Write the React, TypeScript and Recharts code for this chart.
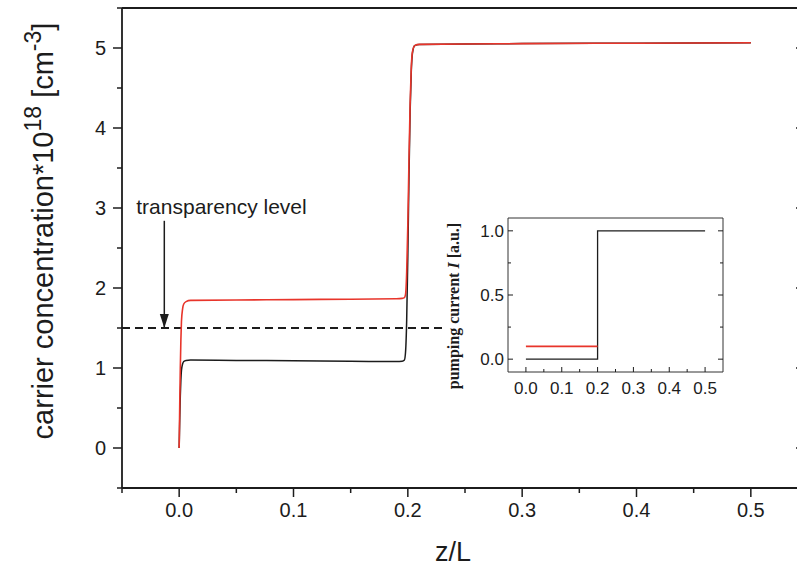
import React from 'react';
import { LineChart, Line, XAxis, YAxis, ReferenceDot } from 'recharts';

// carrier concentration along the cavity, units of 1e18 cm^-3
const zGrid = [0, 0.0005, 0.001, 0.0015, 0.002, 0.003, 0.004, 0.006, 0.01, 0.05, 0.1, 0.15, 0.19, 0.195, 0.197, 0.198, 0.199, 0.2, 0.201, 0.202, 0.203, 0.204, 0.206, 0.21, 0.25, 0.3, 0.4, 0.5];
const redN = [0, 0.55, 1.0, 1.35, 1.58, 1.74, 1.8, 1.83, 1.845, 1.85, 1.855, 1.86, 1.865, 1.87, 1.88, 1.92, 2.2, 2.8, 3.6, 4.3, 4.75, 4.95, 5.03, 5.045, 5.05, 5.055, 5.06, 5.065];
const blackN = [0, 0.35, 0.65, 0.85, 0.97, 1.05, 1.08, 1.095, 1.1, 1.095, 1.09, 1.085, 1.08, 1.085, 1.1, 1.2, 1.6, 2.4, 3.4, 4.2, 4.7, 4.93, 5.03, 5.045, 5.05, 5.055, 5.06, 5.065];

// transparency level + arrow
const levelZ = [-0.05, 0.233];
const levelN = [1.5, 1.5];
const arrowZ = [-0.013, -0.013];
const arrowN = [2.84, 1.5];

// inset: pumping current profile
const pumpBlackZ = [0, 0.2, 0.2, 0.5];
const pumpBlackI = [0, 0, 1, 1];
const pumpRedZ = [0, 0.2];
const pumpRedI = [0.1, 0.1];

const xTicks = [-0.05, 0, 0.05, 0.1, 0.15, 0.2, 0.25, 0.3, 0.35, 0.4, 0.45, 0.5, 0.55];
const yTicks = [-0.5, 0, 0.5, 1, 1.5, 2, 2.5, 3, 3.5, 4, 4.5, 5, 5.5];
const insetXTicks = [0, 0.05, 0.1, 0.15, 0.2, 0.25, 0.3, 0.35, 0.4, 0.45, 0.5];
const insetYTicks = [0, 0.25, 0.5, 0.75, 1];

const zip = (zs: number[], vs: number[]) => zs.map((z, i) => ({ z, v: vs[i] }));

const red = '#e8352b';
const ink = '#1c1c1c';
const sans = '"Liberation Sans", Arial, Helvetica, sans-serif';
const serif = '"Liberation Serif", "Times New Roman", serif';

type Side = 'bottom' | 'top' | 'left' | 'right';

// tick line + optional label, drawn from the axis line itself (tickSize/tickMargin are 0)
function makeTick(side: Side, step: number, len: [number, number], inward: boolean,
  label?: { size: number; gap: number }, width = 1.5) {
  return (props: any) => {
    const { x, y, payload } = props;
    const v: number = payload.value;
    const major = Math.abs(v / step - Math.round(v / step)) < 1e-6;
    const l = major ? len[0] : len[1];
    const d = inward ? -1 : 1;
    let x2 = x, y2 = y;
    if (side === 'bottom') y2 = y + d * l;
    if (side === 'top') y2 = y - d * l;
    if (side === 'left') x2 = x - d * l;
    if (side === 'right') x2 = x + d * l;
    let txt = null;
    if (label && major) {
      const s = v.toFixed(step === 1 ? 0 : 1);
      txt = side === 'bottom'
        ? <text x={x} y={y + label.gap} dy="0.72em" textAnchor="middle" fontSize={label.size} fontFamily={sans} fill={ink}>{s}</text>
        : <text x={x - label.gap} y={y} dy="0.36em" textAnchor="end" fontSize={label.size} fontFamily={sans} fill={ink}>{s}</text>;
    }
    return (
      <g>
        <line x1={x} y1={y} x2={x2} y2={y2} stroke={ink} strokeWidth={width} />
        {txt}
      </g>
    );
  };
}

const ArrowHead = (p: any) => {
  if (p.index !== 1) return <g key={p.key} />;
  const { cx, cy } = p;
  return <path key={p.key} d={`M${cx},${cy} L${cx - 4.5},${cy - 14} L${cx + 4.5},${cy - 14} Z`} fill={ink} />;
};

const LevelText = (p: any) => (
  <text x={p.viewBox.x} y={p.viewBox.y} fontSize={21} fontFamily={sans} fill={ink}>transparency level</text>
);

const YTitle = () => (
  <text transform="rotate(-90, 53, 231)" x={53} y={231} textAnchor="middle" fontSize={29} fontFamily={sans} fill={ink}>
    carrier concentration*10<tspan dy={-12} fontSize={23}>18</tspan>
    <tspan dy={12}> [cm</tspan><tspan dy={-12} fontSize={23}>-3</tspan><tspan dy={12}>]</tspan>
  </text>
);

const XTitle = () => (
  <text x={453} y={561} textAnchor="middle" fontSize={27} fontFamily={sans} fill={ink}>z/L</text>
);

const InsetTitle = () => (
  <text transform="rotate(-90, 29, 106)" x={29} y={106} textAnchor="middle" fontSize={16} fontWeight="bold" fontFamily={serif} fill={ink}>
    pumping current <tspan fontStyle="italic">I</tspan> [a.u.]
  </text>
);

export default function App() {
  const axis = { stroke: ink, strokeWidth: 1.8 };
  const thin = { stroke: '#333', strokeWidth: 1 };
  const bare = { tickSize: 0, tickMargin: 0, tickLine: false, interval: 0 as const, allowDataOverflow: true };
  return (
    <div style={{ position: 'absolute', left: 0, top: 0, width: 797, height: 570, overflow: 'hidden', background: '#fff' }}>
      <LineChart width={830} height={570} margin={{ top: 7, right: 21, bottom: 22, left: 62 }}>
        <XAxis dataKey="z" type="number" domain={[-0.05, 0.55]} ticks={xTicks} {...bare}
          height={60} axisLine={axis}
          tick={makeTick('bottom', 0.1, [9, 5], false, { size: 20, gap: 15 })} label={<XTitle />} />
        <XAxis xAxisId="top" orientation="top" type="number" domain={[-0.05, 0.55]} ticks={xTicks} {...bare}
          height={1} axisLine={axis} tick={makeTick('top', 0.1, [9, 5], true)} />
        <YAxis type="number" domain={[-0.5, 5.5]} ticks={yTicks} {...bare}
          width={60} axisLine={axis}
          tick={makeTick('left', 1, [9, 5], false, { size: 20, gap: 16 })} label={<YTitle />} />
        <YAxis yAxisId="right" orientation="right" type="number" domain={[-0.5, 5.5]} ticks={yTicks} {...bare}
          width={1} axisLine={axis} tick={makeTick('right', 1, [12, 7], true)} />

        <Line data={zip(levelZ, levelN)} dataKey="v" type="linear" stroke={ink} strokeWidth={2} strokeDasharray="8 5"
          dot={false} activeDot={false} isAnimationActive={false} />
        <Line data={zip(arrowZ, arrowN)} dataKey="v" type="linear" stroke={ink} strokeWidth={1.5}
          dot={ArrowHead} activeDot={false} isAnimationActive={false} />
        <Line data={zip(zGrid, blackN)} dataKey="v" type="monotone" stroke={ink} strokeWidth={1.5}
          dot={false} activeDot={false} isAnimationActive={false} />
        <Line data={zip(zGrid, redN)} dataKey="v" type="monotone" stroke={red} strokeWidth={1.6}
          dot={false} activeDot={false} isAnimationActive={false} />
        <ReferenceDot x={-0.0375} y={2.93} r={0} fill="none" stroke="none" label={LevelText} />
      </LineChart>

      <div style={{ position: 'absolute', left: 430, top: 200 }}>
        <LineChart width={310} height={200} margin={{ top: 17, right: 16, bottom: 8, left: 38 }}>
          <XAxis dataKey="z" type="number" domain={[-0.05, 0.55]} ticks={insetXTicks} {...bare}
            height={20} axisLine={thin}
            tick={makeTick('bottom', 0.1, [5, 3], true, { size: 17, gap: 10 }, 1)} />
          <XAxis xAxisId="top" orientation="top" type="number" domain={[-0.05, 0.55]} ticks={insetXTicks} {...bare}
            height={1} axisLine={thin} tick={makeTick('top', 0.1, [5, 3], true, undefined, 1)} />
          <YAxis type="number" domain={[-0.1, 1.1]} ticks={insetYTicks} {...bare}
            width={40} axisLine={thin}
            tick={makeTick('left', 0.5, [5, 3], true, { size: 17, gap: 4 }, 1)} label={<InsetTitle />} />
          <YAxis yAxisId="right" orientation="right" type="number" domain={[-0.1, 1.1]} ticks={insetYTicks} {...bare}
            width={1} axisLine={thin} tick={makeTick('right', 0.5, [5, 3], true, undefined, 1)} />
          <Line data={zip(pumpBlackZ, pumpBlackI)} dataKey="v" type="linear" stroke={ink} strokeWidth={1.3}
            dot={false} activeDot={false} isAnimationActive={false} />
          <Line data={zip(pumpRedZ, pumpRedI)} dataKey="v" type="linear" stroke={red} strokeWidth={1.6}
            dot={false} activeDot={false} isAnimationActive={false} />
        </LineChart>
      </div>
    </div>
  );
}
